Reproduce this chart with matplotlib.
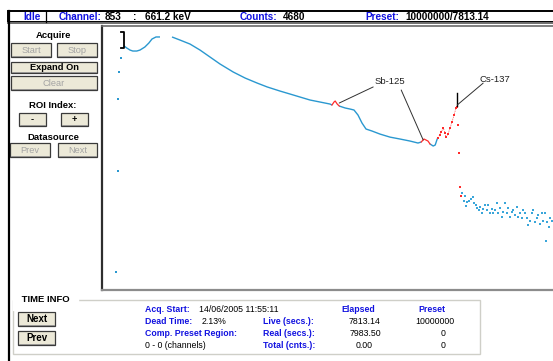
import numpy as np
import matplotlib
matplotlib.use("Agg")
import matplotlib.pyplot as plt
from matplotlib.patches import Rectangle

plt.rcParams['font.family'] = ['Liberation Sans', 'DejaVu Sans']

# ---------------- data ----------------
# isolated low-channel points
left_channels = [0, 4, 6, 8, 12]
left_counts = [1, 178, 7110, 28400, 58100]

# main spectrum (nan = off-scale, not displayed)
channels = [20, 27, 35, 42, 52, 60, 72, 82, 90, 100,
            110, 125, 140, 160, 185, 210, 235, 260, 293, 323,
            353, 378, 410, 435, 460, 485, 510, 535, 540, 545,
            548, 553, 558, 573, 585, 595, 605, 615, 625, 640,
            660, 685, 710, 735, 755, 763, 770, 775, 780, 785,
            793, 798, 803, 805, 809, 813, 818, 823, 825, 830,
            835, 840, 845, 850, 853, 855, 858, 860, 863]
counts = [108000, 97000, 87500, 83200, 83200, 87500, 102000, 125000, 154000, 171000,
          171000, np.nan, 171000, 146000, 119000, 87500, 61200, 42800, 28400, 20800,
          16100, 13200, 10700, 9190, 7880, 6760, 6100, 5500, 5230, 6100,
          6420, 5500, 4970, 4490, 4260, 4050, 3130, 2080, 1530, 1380,
          1180, 1010, 916, 826, 746, 785, 916, 870, 826, 710,
          640, 674, 916, 964, 1120, 1310, 1610, 1250, 1010, 1180,
          1610, 2190, 3130, 4490, 4680, 1880, 447, 78, 49]

# noisy high-energy tail
tail_channels = [865, 869, 872, 874, 878, 883, 888, 892, 894, 900,
                 903, 908, 910, 915, 918, 923, 928, 930, 935, 940,
                 943, 948, 953, 955, 960, 965, 968, 973, 978, 980,
                 985, 990, 993, 998, 1003, 1005, 1010, 1015, 1018, 1023,
                 1028, 1030, 1035, 1040, 1043, 1048, 1053, 1055, 1060, 1065,
                 1068, 1073, 1075, 1078, 1083, 1085, 1090]
tail_counts = [58, 38, 49, 30, 36, 38, 42, 47, 35, 31,
               27, 24, 28, 21, 25, 31, 24, 31, 21, 25,
               21, 24, 35, 21, 27, 17, 22, 35, 21, 27,
               17, 22, 24, 19, 28, 17, 21, 16, 24, 21,
               16, 11, 14, 21, 24, 13, 16, 19, 12, 21,
               14, 21, 5, 13, 10, 16, 14]

# regions of interest (channel ranges)
roi_lines = [(540, 558), (763, 785)]
roi_dots = [(805, 863)]
peak_channel = 853

# peak labels
sb_label = ("Sb-125", 685, 17900)
sb_targets = [(643, 13200, 558, 5790), (713, 11300, 768, 870)]
cs_label = ("Cs-137", 948, 19800)
cs_target = (918, 16100, 853, 5230)
cursor_channel = 853
cursor_span = (4970, 9680)
bracket_channel = 20
bracket_span = (97000, 220000)

# ---------------- figure ----------------
W, H = 553, 361
fig = plt.figure(figsize=(W / 100, H / 100), dpi=100, facecolor='white')
bg = fig.add_axes([0, 0, 1, 1])
bg.set_xlim(0, W)
bg.set_ylim(H, 0)
bg.axis('off')

BLUE_T = '#1212E0'
FACE = '#ECE9D8'


def button(x0, y0, x1, y1, label, enabled=True, bold=False, size=6.7):
    bg.add_patch(Rectangle((x0, y0), x1 - x0, y1 - y0, facecolor=FACE,
                           edgecolor='#3A3A3A', lw=0.9))
    bg.plot([x0 + 1, x1 - 1], [y1 - 0.8, y1 - 0.8], color='#8A8A8A', lw=0.6)
    bg.text((x0 + x1) / 2, (y0 + y1) / 2 + 0.3, label, ha='center', va='center',
            fontsize=size, fontweight='bold' if bold else 'normal',
            color='black' if enabled else '#A4A4A4')


# status bar
bg.add_patch(Rectangle((8, 11), 560, 11, facecolor='white', edgecolor='black', lw=1.4))
bg.plot([8, 560], [22.6, 22.6], color='#707070', lw=1.4)
bg.plot([46, 46], [11, 22], color='black', lw=0.9)
st = dict(fontsize=7.2, fontweight='bold', va='center')
bg.text(32, 16.8, "Idle", ha='center', color=BLUE_T, **st)
bg.text(59, 16.8, "Channel:", ha='left', color=BLUE_T, **st)
bg.text(105, 16.8, "853", ha='left', color='black', **st)
bg.text(133, 16.8, ":", ha='left', color='black', **st)
bg.text(145, 16.8, "661.2 keV", ha='left', color='black', **st)
bg.text(240, 16.8, "Counts:", ha='left', color=BLUE_T, **st)
bg.text(283, 16.8, "4680", ha='left', color='black', **st)
bg.text(365, 16.8, "Preset:", ha='left', color=BLUE_T, **st)
bg.text(405, 16.8, "10000000/7813.14", ha='left', color='black', **st)

# left border line
bg.plot([8.5, 8.5], [11, H], color='black', lw=1.6)

# left panel
lab = dict(fontsize=6.8, fontweight='bold', ha='center', va='center', color='black')
bg.text(53, 35, "Acquire", **lab)
button(11, 43, 51, 57, "Start", enabled=False)
button(57, 43, 97, 57, "Stop", enabled=False)
button(11, 62, 97, 73, "Expand On", bold=True)
button(11, 76, 97, 90, "Clear", enabled=False)
bg.text(53, 105, "ROI Index:", **lab)
button(19, 113, 46, 126, "-", bold=True)
button(61, 113, 88, 126, "+", bold=True)
bg.text(53, 138, "Datasource", **lab)
button(10, 143, 50, 157, "Prev", enabled=False)
button(58, 143, 97, 157, "Next", enabled=False)

# time info group
bg.add_patch(Rectangle((13, 300), 467, 54, facecolor='none', edgecolor='#CFCFC8', lw=1.0))
bg.text(19, 300, " TIME INFO ", ha='left', va='center', fontsize=6.8, fontweight='bold',
        color='black', backgroundcolor='white')
button(18, 312, 55, 326, "Next", bold=True, size=7)
button(18, 331, 55, 345, "Prev", bold=True, size=7)
bl = dict(fontsize=6.3, fontweight='bold', color=BLUE_T, va='center')
nr = dict(fontsize=6.3, color='black', va='center')
bg.text(145, 309, "Acq. Start:", ha='left', **bl)
bg.text(199, 309, "14/06/2005 11:55:11", ha='left', **nr)
bg.text(145, 321, "Dead Time:", ha='left', **bl)
bg.text(202, 321, "2.13%", ha='left', **nr)
bg.text(145, 333, "Comp. Preset Region:", ha='left', **bl)
bg.text(145, 345, "0 - 0 (channels)", ha='left', **nr)
bg.text(263, 321, "Live (secs.):", ha='left', **bl)
bg.text(263, 333, "Real (secs.):", ha='left', **bl)
bg.text(263, 345, "Total (cnts.):", ha='left', **bl)
bg.text(358, 309, "Elapsed", ha='center', **bl)
bg.text(432, 309, "Preset", ha='center', **bl)
bg.text(365, 321, "7813.14", ha='center', **nr)
bg.text(365, 333, "7983.50", ha='center', **nr)
bg.text(364, 345, "0.00", ha='center', **nr)
bg.text(435, 321, "10000000", ha='center', **nr)
bg.text(443, 333, "0", ha='center', **nr)
bg.text(443, 345, "0", ha='center', **nr)

# ---------------- spectrum axes ----------------
ax = fig.add_axes([102 / W, 1 - 290 / H, (556 - 102) / W, (290 - 26) / H], zorder=3)
ax.set_facecolor('white')
ax.set_yscale('log')
ax.set_xlim(-35, 1100)
ax.set_ylim(0.4, 3e5)
ax.tick_params(which='both', length=0, labelleft=False, labelbottom=False)
ax.set_xticks([])
ax.set_yticks([])
ax.set_yticks([], minor=True)
ax.spines['right'].set_visible(False)
ax.spines['left'].set_color('#2E2E2E')
ax.spines['left'].set_linewidth(1.6)
ax.spines['top'].set_color('#6A6A6A')
ax.spines['top'].set_linewidth(1.2)
ax.spines['bottom'].set_color('#8C8C8C')
ax.spines['bottom'].set_linewidth(1.6)

ch = np.array(channels, dtype=float)
ct = np.array(counts, dtype=float)
BLUE = '#2A98D0'
RED = '#FF2A2A'

inside = np.zeros(len(ch), dtype=bool)
for a, b in roi_lines + roi_dots:
    inside |= (ch > a) & (ch < b)
blue_ct = np.where(inside, np.nan, ct)
ax.plot(ch, blue_ct, color=BLUE, lw=1.0, solid_capstyle='butt')
for a, b in roi_lines:
    m = (ch >= a) & (ch <= b)
    ax.plot(ch[m], ct[m], color=RED, lw=0.9)
for a, b in roi_dots:
    m = (ch >= a) & (ch <= min(b, peak_channel))
    ax.plot(ch[m], ct[m], color=RED, lw=0.5, linestyle=(0, (1.5, 1.5)))
    m = (ch >= a) & (ch <= b)
    ax.plot(ch[m], ct[m], linestyle='none', marker='s', markersize=1.5,
            markeredgewidth=0, color=RED)

ax.plot(left_channels, left_counts, linestyle='none', marker='s', markersize=1.6,
        markeredgewidth=0, color=BLUE)
ax.plot(tail_channels, tail_counts, linestyle='none', marker='s', markersize=1.6,
        markeredgewidth=0, color='#3AA6DA')

# cursor marks
bx = bracket_channel
ax.plot([bx - 7, bx, bx, bx - 7], [bracket_span[1], bracket_span[1], bracket_span[0], bracket_span[0]],
        color='black', lw=1.3)
ax.plot([cursor_channel, cursor_channel], cursor_span, color='black', lw=1.0)

# labels
arrow = dict(arrowstyle='-', color='#303030', lw=0.7, shrinkA=0, shrinkB=0)
ax.text(sb_label[1], sb_label[2], sb_label[0], fontsize=6.8, ha='center', va='center', color='#202020')
for x0, y0, x1, y1 in sb_targets:
    ax.annotate("", xy=(x1, y1), xytext=(x0, y0), arrowprops=arrow)
ax.text(cs_label[1], cs_label[2], cs_label[0], fontsize=6.8, ha='center', va='center', color='#202020')
ax.annotate("", xy=(cs_target[2], cs_target[3]), xytext=(cs_target[0], cs_target[1]), arrowprops=arrow)

fig.savefig('out.png', dpi=100, facecolor='white')
